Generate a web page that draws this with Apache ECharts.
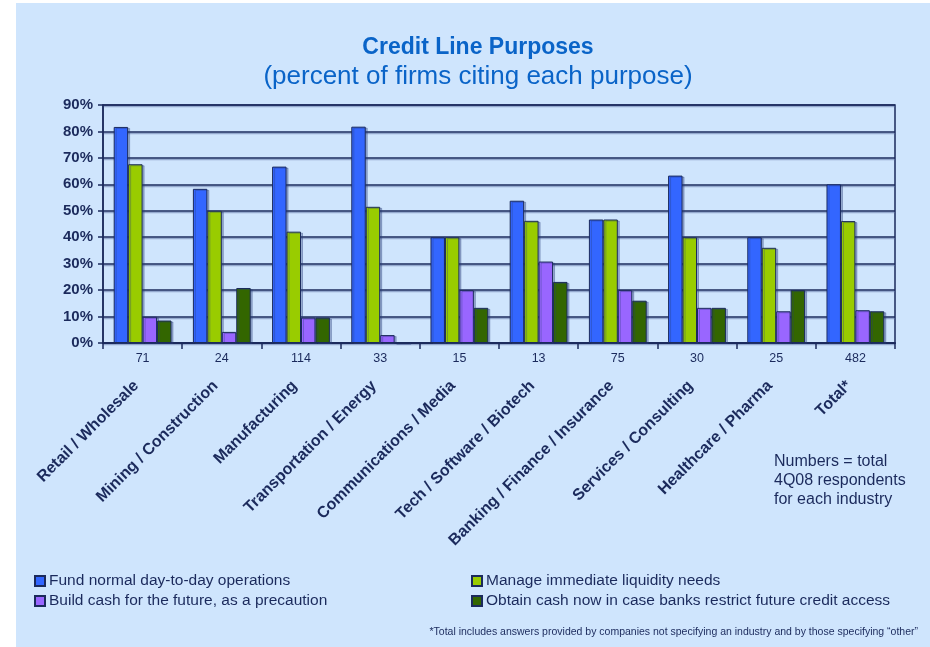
<!DOCTYPE html>
<html>
<head>
<meta charset="utf-8">
<title>Credit Line Purposes</title>
<script src="https://cdn.jsdelivr.net/npm/echarts@6/dist/echarts.min.js"></script>
<style>
  html, body { margin: 0; padding: 0; background: #ffffff; }
  #chart { width: 930px; height: 647px; }
</style>
</head>
<body>
<div id="chart"></div>
<script>
// Industries surveyed (4Q08) and number of respondents per industry
const categories = [
  'Retail / Wholesale', 'Mining / Construction', 'Manufacturing',
  'Transportation / Energy', 'Communications / Media', 'Tech / Software / Biotech',
  'Banking / Finance / Insurance', 'Services / Consulting', 'Healthcare / Pharma', 'Total*'
];
const respondents = ['71', '24', '114', '33', '15', '13', '75', '30', '25', '482'];

// Percent of firms citing each purpose
const fundOperations = [81.7, 58.3, 66.7, 81.8, 40.0, 53.8, 46.7, 63.3, 40.0, 60.0];
const manageLiquidity = [67.6, 50.0, 42.1, 51.5, 40.0, 46.2, 46.7, 40.0, 36.0, 46.1];
const buildCash = [9.9, 4.2, 9.6, 3.0, 20.0, 30.8, 20.0, 13.3, 12.0, 12.4];
const obtainCash = [8.5, 20.8, 9.6, 0.0, 13.3, 23.1, 16.0, 13.3, 20.0, 12.0];

const yTicks = [0, 10, 20, 30, 40, 50, 60, 70, 80, 90];

const seriesNames = [
  'Fund normal day-to-day operations',
  'Manage immediate liquidity needs',
  'Build cash for the future, as a precaution',
  'Obtain cash now in case banks restrict future credit access'
];

const NAVY = '#1b2a5c';
const FONT = 'Arial, "Liberation Sans", Helvetica, sans-serif';
const PANEL = '#cfe5fd';

function barSeries(name, data, color) {
  return {
    name: name,
    type: 'bar',
    data: data,
    xAxisIndex: 0,
    barGap: '0%',
    barCategoryGap: '27%',
    itemStyle: {
      color: color,
      borderColor: NAVY,
      borderWidth: 1,
      shadowColor: 'rgba(40, 60, 120, 0.35)',
      shadowOffsetX: 2,
      shadowOffsetY: 1
    }
  };
}

const chart = echarts.init(document.getElementById('chart'), null, { renderer: 'canvas' });

chart.setOption({
  animation: false,
  backgroundColor: '#ffffff',
  textStyle: { fontFamily: FONT, color: NAVY },
  graphic: [
    {
      type: 'rect', silent: true, z: -10,
      shape: { x: 16, y: 3, width: 914, height: 644 },
      style: { fill: PANEL }
    },
    {
      type: 'text', silent: true,
      x: 774, y: 452,
      style: {
        text: 'Numbers = total\n4Q08 respondents\nfor each industry',
        font: '16px ' + FONT,
        fill: NAVY,
        lineHeight: 19
      }
    },
    {
      type: 'text', silent: true,
      x: 918, y: 632,
      style: {
        text: '*Total includes answers provided by companies not specifying an industry and by those specifying \u201Cother\u201D',
        font: '10.5px ' + FONT,
        fill: NAVY,
        align: 'right',
        verticalAlign: 'middle'
      }
    }
  ],
  title: [
    {
      text: 'Credit Line Purposes',
      left: 473, top: 31, textAlign: 'center',
      textStyle: { fontFamily: FONT, fontSize: 23, fontWeight: 'bold', color: '#0a64c8' }
    },
    {
      text: '(percent of firms citing each purpose)',
      left: 473, top: 59, textAlign: 'center',
      textStyle: { fontFamily: FONT, fontSize: 26, fontWeight: 'normal', color: '#0a64c8' }
    }
  ],
  legend: [
    {
      orient: 'vertical', left: 29, top: 568,
      data: [seriesNames[0], seriesNames[2]],
      icon: 'rect', itemWidth: 10, itemHeight: 10, itemGap: 4,
      textStyle: { fontFamily: FONT, fontSize: 15.5, color: NAVY, padding: [0, 0, 0, -1] }
    },
    {
      orient: 'vertical', left: 466, top: 568,
      data: [seriesNames[1], seriesNames[3]],
      icon: 'rect', itemWidth: 10, itemHeight: 10, itemGap: 4,
      textStyle: { fontFamily: FONT, fontSize: 15.5, color: NAVY, padding: [0, 0, 0, -1] }
    }
  ],
  grid: {
    left: 103, right: 35, top: 105, bottom: 304,
    show: true, borderColor: NAVY, borderWidth: 1.5, backgroundColor: 'transparent'
  },
  xAxis: [
    {
      type: 'category',
      data: respondents,
      position: 'bottom',
      axisLine: { lineStyle: { color: NAVY, width: 2 } },
      axisTick: { show: true, length: 6, lineStyle: { color: NAVY, width: 1.5 } },
      axisLabel: { interval: 0, margin: 9, fontSize: 12.5, color: NAVY, fontFamily: FONT }
    },
    {
      type: 'category',
      data: categories,
      position: 'bottom',
      axisLine: { show: false },
      axisTick: { show: false },
      axisLabel: {
        interval: 0, rotate: 45, margin: 34, padding: [0, 9, 0, 0],
        fontSize: 16, fontWeight: 'bold', color: NAVY, fontFamily: FONT
      }
    }
  ],
  yAxis: {
    type: 'value',
    min: yTicks[0],
    max: yTicks[yTicks.length - 1],
    interval: 10,
    axisLine: { show: true, lineStyle: { color: NAVY, width: 1.5 } },
    axisTick: { show: true, length: 5, lineStyle: { color: NAVY, width: 1.5 } },
    axisLabel: {
      formatter: '{value}%', margin: 10,
      fontSize: 15, fontWeight: 'bold', color: NAVY, fontFamily: FONT
    },
    splitLine: {
      lineStyle: {
        color: NAVY, width: 1.5,
        shadowColor: 'rgba(90, 110, 160, 0.5)', shadowOffsetY: 1.5
      }
    }
  },
  series: [
    barSeries(seriesNames[0], fundOperations, '#3366ff'),
    barSeries(seriesNames[1], manageLiquidity, '#99cc00'),
    barSeries(seriesNames[2], buildCash, '#9966ff'),
    barSeries(seriesNames[3], obtainCash, '#336600')
  ]
});
</script>
</body>
</html>
